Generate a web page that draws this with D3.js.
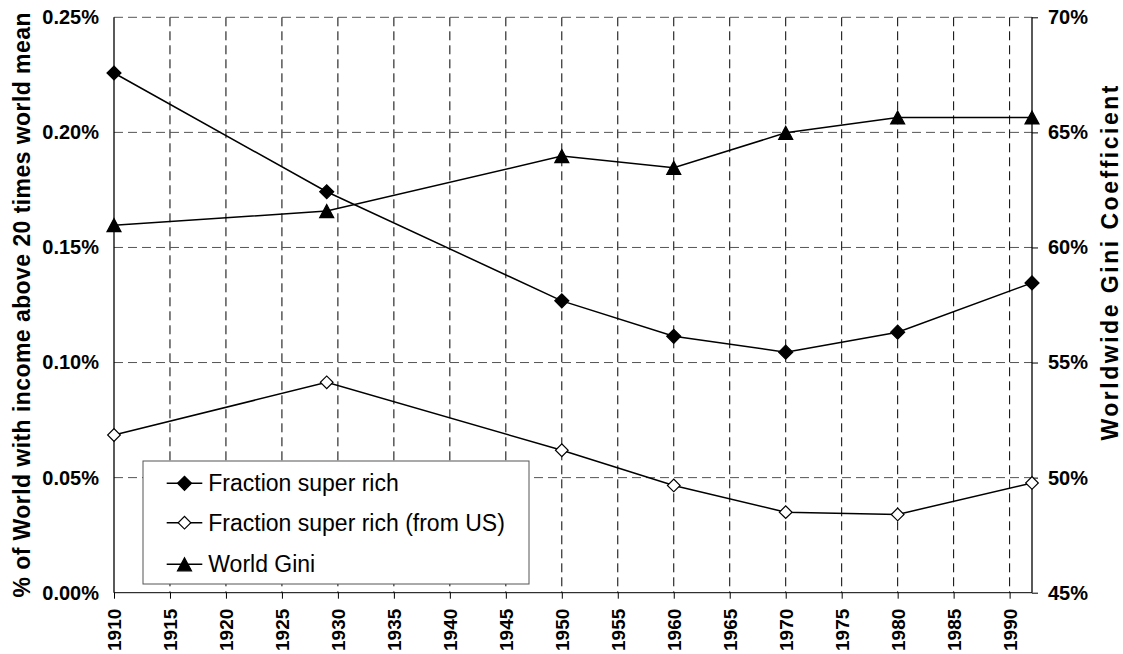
<!DOCTYPE html>
<html>
<head>
<meta charset="utf-8">
<script src="https://cdn.jsdelivr.net/npm/d3@7"></script>
<style>
  body { margin: 0; background: #fff; }
  svg { display: block; font-family: "Liberation Sans", Arial, sans-serif; }
  .tick text { font-weight: bold; }
</style>
</head>
<body>
<div class="graph"></div>
<script>
// values (shares in %, gini in %)
var years = [1910, 1929, 1950, 1960, 1970, 1980, 1992];
var superRich = [0.2258, 0.1742, 0.1268, 0.1114, 0.1045, 0.1132, 0.1346];
var superRichUS = [0.0685, 0.0914, 0.0619, 0.0466, 0.0350, 0.0340, 0.0477];
var worldGini = [60.97, 61.58, 63.97, 63.46, 64.98, 65.65, 65.65];

var yearTicks = [1910, 1915, 1920, 1925, 1930, 1935, 1940, 1945, 1950, 1955, 1960, 1965, 1970, 1975, 1980, 1985, 1990];
var leftTicks = [0, 0.05, 0.10, 0.15, 0.20, 0.25];
var rightTicks = [45, 50, 55, 60, 65, 70];
var seriesNames = ['Fraction super rich', 'Fraction super rich (from US)', 'World Gini'];

var margin = {top: 17.3, right: 91, bottom: 61.3, left: 114},
    width = 1123 - margin.left - margin.right,
    height = 654 - margin.top - margin.bottom;

var x = d3.scaleLinear().domain([1910, 1992]).range([0, width]);
var yL = d3.scaleLinear().domain([0, 0.25]).range([height, 0]);
var yR = d3.scaleLinear().domain([45, 70]).range([height, 0]);

// triangle centred on its bounding box, like the spreadsheet marker
var boxTriangle = {
  draw: function(ctx, size) {
    var w = Math.sqrt(size), h = w * 0.93;
    ctx.moveTo(0, -h / 2);
    ctx.lineTo(w / 2, h / 2);
    ctx.lineTo(-w / 2, h / 2);
    ctx.closePath();
  }
};
var diamond = d3.symbol(d3.symbolSquare, 98);
var openDiamond = d3.symbol(d3.symbolSquare, 80);
var triangle = d3.symbol(boxTriangle, 196);

var svg = d3.select(".graph").append("svg")
    .attr("width", 1123)
    .attr("height", 654)
  .append("g")
    .attr("transform", "translate(" + margin.left + "," + margin.top + ")");

// grid
svg.append("g").selectAll("line")
    .data(yearTicks.slice(1))
  .enter().append("line")
    .attr("x1", function(d) { return x(d); })
    .attr("x2", function(d) { return x(d); })
    .attr("y1", 0)
    .attr("y2", height)
    .attr("stroke", "#000")
    .attr("stroke-dasharray", "9,5");

svg.append("g").selectAll("line")
    .data(leftTicks.slice(1))
  .enter().append("line")
    .attr("x1", 0)
    .attr("x2", width)
    .attr("y1", function(d) { return yL(d); })
    .attr("y2", function(d) { return yL(d); })
    .attr("stroke", "#555")
    .attr("stroke-dasharray", "9,5");

// axes
var xAxis = d3.axisBottom(x).tickValues(yearTicks).tickSize(6).tickFormat(d3.format("d"));
var yAxisL = d3.axisLeft(yL).tickValues(leftTicks).tickSize(0).tickPadding(15)
    .tickFormat(function(d) { return d.toFixed(2) + "%"; });
var yAxisR = d3.axisRight(yR).tickValues(rightTicks).tickSize(6).tickPadding(10)
    .tickFormat(function(d) { return d + "%"; });

var gx = svg.append("g")
    .attr("transform", "translate(0," + height + ")")
    .call(xAxis);
gx.select(".domain").attr("d", "M0,0H" + width);
gx.selectAll(".tick line").attr("stroke", "#000");
gx.selectAll("text")
    .attr("font-size", 19)
    .attr("fill", "#000")
    .attr("transform", "rotate(-90)")
    .attr("x", -16)
    .attr("y", 0)
    .attr("dy", "0.35em")
    .style("text-anchor", "end");

var gl = svg.append("g").call(yAxisL);
gl.select(".domain").attr("d", "M0,0V" + height).attr("stroke-width", 1.3);
gl.selectAll("text").attr("font-size", 20).attr("fill", "#000");

var gr = svg.append("g")
    .attr("transform", "translate(" + width + ",0)")
    .call(yAxisR);
gr.select(".domain").attr("d", "M0,0V" + height).attr("stroke-width", 1.3);
gr.selectAll("text").attr("font-size", 20).attr("fill", "#000");

svg.selectAll(".domain").attr("stroke", "#000");

// axis titles
svg.append("text")
    .attr("transform", "translate(" + (30 - margin.left) + "," + (height / 2) + ") rotate(-90)")
    .attr("text-anchor", "middle")
    .attr("font-size", 23)
    .attr("font-weight", "bold")
    .attr("textLength", 585)
    .attr("lengthAdjust", "spacing")
    .text("% of World with income above 20 times world mean");

svg.append("text")
    .attr("transform", "translate(" + (width + 86) + "," + (263 - margin.top) + ") rotate(-90)")
    .attr("text-anchor", "middle")
    .attr("font-size", 23)
    .attr("font-weight", "bold")
    .attr("textLength", 355)
    .attr("lengthAdjust", "spacing")
    .text("Worldwide Gini Coefficient");

// series
function drawSeries(values, yScale, symbol, fill, rot) {
  var pts = years.map(function(yr, i) { return [x(yr), yScale(values[i])]; });
  svg.append("path")
      .attr("d", d3.line()(pts))
      .attr("fill", "none")
      .attr("stroke", "#000")
      .attr("stroke-width", 1.5);
  svg.append("g").selectAll("path")
      .data(pts)
    .enter().append("path")
      .attr("d", symbol)
      .attr("transform", function(p) { return "translate(" + p[0] + "," + p[1] + ") rotate(" + rot + ")"; })
      .attr("fill", fill)
      .attr("stroke", "#000")
      .attr("stroke-width", 1.2);
}

drawSeries(superRichUS, yL, openDiamond, "#fff", 45);
drawSeries(superRich, yL, diamond, "#000", 45);
drawSeries(worldGini, yR, triangle, "#000", 0);

// legend
var legend = svg.append("g")
    .attr("transform", "translate(" + (143 - margin.left) + "," + (461 - margin.top) + ")");
legend.append("rect")
    .attr("width", 386)
    .attr("height", 123)
    .attr("fill", "#fff")
    .attr("stroke", "#555");

var legendRows = [
  {name: seriesNames[0], y: 22.3, symbol: diamond, fill: "#000", rot: 45},
  {name: seriesNames[1], y: 61.7, symbol: openDiamond, fill: "#fff", rot: 45},
  {name: seriesNames[2], y: 103.3, symbol: triangle, fill: "#000", rot: 0}
];
var row = legend.selectAll(".legend-row")
    .data(legendRows)
  .enter().append("g")
    .attr("class", "legend-row")
    .attr("transform", function(d) { return "translate(0," + d.y + ")"; });
row.append("line")
    .attr("x1", 23.7)
    .attr("x2", 59.3)
    .attr("stroke", "#000")
    .attr("stroke-width", 1.5);
row.append("path")
    .attr("d", function(d) { return d.symbol(); })
    .attr("transform", function(d) { return "translate(41.5,0) rotate(" + d.rot + ")"; })
    .attr("fill", function(d) { return d.fill; })
    .attr("stroke", "#000")
    .attr("stroke-width", 1.2);
row.append("text")
    .attr("x", 65.3)
    .attr("dy", "0.35em")
    .attr("font-size", 23)
    .text(function(d) { return d.name; });
</script>
</body>
</html>
